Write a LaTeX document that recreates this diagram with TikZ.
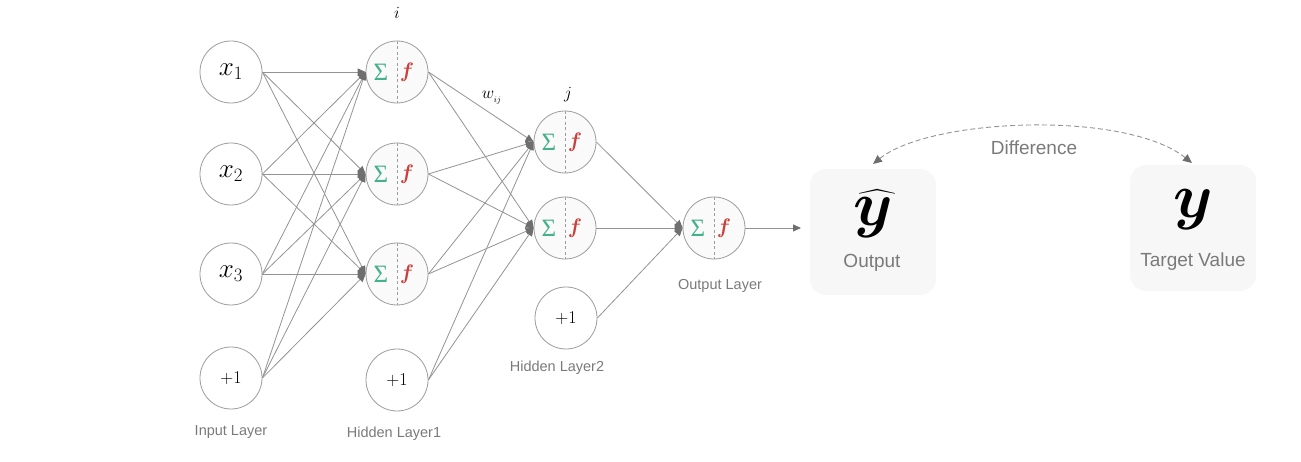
\RequirePackage{fix-cm}
\documentclass[tikz,border=0pt]{standalone}
\usepackage{amsmath}
\usepackage{fontspec}
\newfontfamily\labfont{Liberation Sans}
\newfontfamily\sigfont{Liberation Serif}
\usetikzlibrary{arrows.meta}
\definecolor{edgec}{HTML}{939393}
\definecolor{tipc}{HTML}{6E6E6E}
\definecolor{circc}{HTML}{9C9C9C}
\definecolor{nfill}{HTML}{FAFAFA}
\definecolor{labc}{HTML}{7A7A7A}
\definecolor{sigc}{HTML}{45B08C}
\definecolor{fc}{HTML}{C8413E}
\definecolor{boxc}{HTML}{F7F7F7}
\begin{document}
\begin{tikzpicture}[x=1pt,y=-1pt,
  unit/.style={circle, draw=circc, fill=white, minimum size=62pt, inner sep=0pt, line width=0.8pt,
    font=\fontsize{18}{20}\selectfont},
  neuron/.style={unit, fill=nfill},
  sig/.style={inner sep=0pt, text=sigc, font=\sigfont\fontsize{25}{27}\selectfont},
  fsym/.style={inner sep=0pt, text=fc, font=\fontsize{21}{23}\selectfont},
  conn/.style={draw=edgec, line width=0.8pt, -{Triangle[length=8pt,width=7pt,color=tipc]}},
  outarrow/.style={draw=edgec, line width=0.8pt, -{Triangle[length=8pt,width=7pt,color=tipc]}},
  difarrow/.style={draw=edgec, line width=0.9pt, dashed, dash pattern=on 5pt off 3pt,
    {Triangle[length=9pt,width=8pt,color=tipc]}-{Triangle[length=9pt,width=8pt,color=tipc]}},
  lab/.style={text=labc, inner sep=0pt, font=\labfont\fontsize{14.5}{17}\selectfont},
  biglab/.style={text=labc, inner sep=0pt, font=\labfont\fontsize{19}{22}\selectfont},
  rbox/.style={fill=boxc, rounded corners=16pt, minimum width=126pt, minimum height=126pt, inner sep=0pt},
  idx/.style={inner sep=0pt, font=\fontsize{17}{19}\selectfont},
  bigy/.style={inner sep=0pt, anchor=base, font=\fontsize{63}{66}\selectfont}
]
\useasboundingbox (0,0) rectangle (1301,462);

% input layer
\node[unit, font=\fontsize{27}{29}\selectfont] (in1) at (231,72) {$x_1$};
\node[unit, font=\fontsize{27}{29}\selectfont] (in2) at (231,174) {$x_2$};
\node[unit, font=\fontsize{27}{29}\selectfont] (in3) at (231,274) {$x_3$};
\node[unit] (inb) at (231,378) {$+1$};

% neurons
\foreach \n/\x/\y in {h11/397/72, h12/397/174, h13/397/274, h21/565/142, h22/565/228, o/714/228} {
  \node[neuron] (\n) at (\x,\y) {};
  \draw[circc, line width=0.7pt, dashed, dash pattern=on 3pt off 2.5pt] (\n.north) -- (\n.south);
  \node[sig] (\n s) at ([xshift=-16pt]\n.center) {Σ};
  \node[fsym] (\n f) at ([xshift=10pt]\n.center) {$\boldsymbol{f}$};
}
\node[unit] (hb) at (397,380) {$+1$};
\node[unit] (h2b) at (566,318) {$+1$};

% connections
\foreach \s in {in1,in2,in3,inb} \foreach \t in {h11,h12,h13} \draw[conn] (\s.east) -- (\t.west);
\foreach \s in {h11,h12,h13,hb} \foreach \t in {h21,h22} \draw[conn] (\s.east) -- (\t.west);
\foreach \s in {h21,h22,h2b} \draw[conn] (\s.east) -- (o.west);
\coordinate (oend) at (801,228);
\draw[outarrow] (o.east) -- (oend);

% indices
\node[idx] (li) at (397,13) {$i$};
\node[idx] (lj) at (568,95) {$j$};
\node[idx] (lw) at (492,98) {$w_{{}_{ij}}$};

% layer labels
\node[lab] (linput) at (231,432) {Input Layer};
\node[lab] (lh1) at (394,434) {Hidden Layer1};
\node[lab] (lh2) at (557,368) {Hidden Layer2};
\node[lab] (lout) at (720,286) {Output Layer};

% output / target boxes
\node[rbox] (obox) at (873,232) {};
\node[rbox] (tbox) at (1193,228) {};
\node[bigy] (yhat) at (873,226) {$\boldsymbol{\widehat{y}}$};
\node[biglab] (lo) at (872,263) {Output};
\node[bigy] (ytar) at (1193,218) {$\boldsymbol{y}$};
\node[biglab] (lt) at (1193,262) {Target Value};

% difference arrow
\coordinate (dl) at (873,164);
\coordinate (dr) at (1192,163);
\draw[difarrow] (dl) .. controls (930,118) and (1125,110) .. (dr);
\node[biglab] (ldiff) at (1034,148) {Difference};
\end{tikzpicture}
\end{document}
